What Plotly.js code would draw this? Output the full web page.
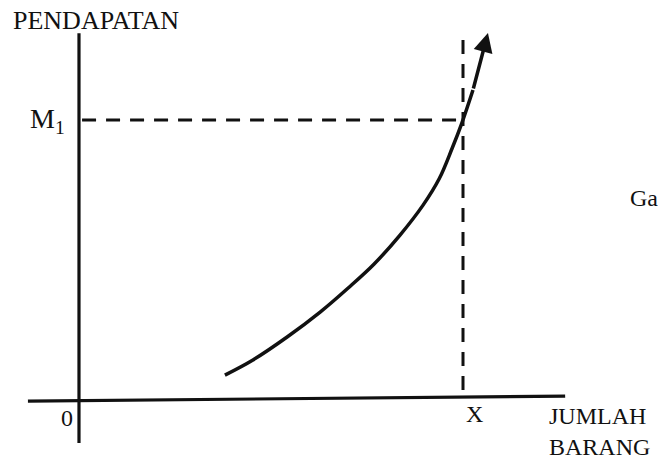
<!DOCTYPE html>
<html>
<head>
<meta charset="utf-8">
<script src="https://cdn.plot.ly/plotly-3.0.1.min.js"></script>
<style>html,body{margin:0;padding:0;background:#fff;}#chart{width:658px;height:459px;}</style>
</head>
<body>
<div id="chart"></div>
<script>
// Engel curve (data units: X = 10 on the quantity axis, M1 = 10 on the income axis)
const curveX = [3.80, 4.53, 5.42, 6.28, 7.01, 7.68, 8.36, 8.96, 9.38, 9.72, 9.97, 10.26];
const curveY = [0.89, 1.43, 2.25, 3.14, 4.00, 4.85, 5.89, 6.96, 7.90, 9.00, 9.89, 11.07];
const arrowTip = [10.65, 13.11];
const markX = 10;      // X
const markY = 10;      // M1
const yAxisLabel = 'PENDAPATAN';
const xAxisLabel = 'JUMLAH<br>BARANG';
const tickLabels = {origin: '0', x: 'X', y: 'M<sub>1</sub>'};
const sideText = 'Ga';

const ink = '#111';
const fam = '"Liberation Serif", "Times New Roman", serif';
const font = {family: fam, size: 24, color: ink};

const traces = [{
  x: curveX, y: curveY, type: 'scatter', mode: 'lines',
  line: {color: ink, width: 3.5, shape: 'spline', smoothing: 1},
  hoverinfo: 'skip', showlegend: false
}];

const shapes = [
  // vertical axis
  {type: 'line', xref: 'x', yref: 'y', x0: 0, x1: 0, y0: -1.54, y1: 13.1, line: {color: ink, width: 3.2}},
  // horizontal axis
  {type: 'line', xref: 'x', yref: 'y', x0: -1.33, x1: 12.66, y0: -0.04, y1: 0.14, line: {color: ink, width: 3.2}},
  // dashed M1 guide
  {type: 'line', xref: 'x', yref: 'y', x0: 0.08, x1: markX, y0: markY, y1: markY, line: {color: ink, width: 3, dash: '14px,10px'}},
  // dashed X guide
  {type: 'line', xref: 'x', yref: 'y', x0: markX, x1: markX, y0: 0.36, y1: 12.86, line: {color: ink, width: 3, dash: '14px,10px'}}
];

const annotations = [
  // arrow continuing the curve
  {x: arrowTip[0], y: arrowTip[1], ax: curveX[curveX.length - 1], ay: curveY[curveY.length - 1],
   xref: 'x', yref: 'y', axref: 'x', ayref: 'y', text: '', showarrow: true,
   arrowhead: 2, arrowsize: 1.1, arrowwidth: 3.5, arrowcolor: ink, standoff: 0, startstandoff: 0},
  {x: -1.77, y: 13.57, xref: 'x', yref: 'y', text: yAxisLabel, showarrow: false, xanchor: 'left', yanchor: 'middle', font: {family: fam, size: 26, color: ink}},
  {x: -0.3125, y: 10.0, xref: 'x', yref: 'y', text: tickLabels.y, showarrow: false, xanchor: 'right', yanchor: 'middle', font: {family: fam, size: 28, color: ink}},
  {x: -0.30, y: -0.64, xref: 'x', yref: 'y', text: tickLabels.origin, showarrow: false, xanchor: 'center', yanchor: 'middle', font: font},
  {x: 10.29, y: -0.5, xref: 'x', yref: 'y', text: tickLabels.x, showarrow: false, xanchor: 'center', yanchor: 'middle', font: font},
  {x: 12.19, y: -1.107, xref: 'x', yref: 'y', text: xAxisLabel, showarrow: false, xanchor: 'left', yanchor: 'middle', align: 'left', font: font},
  {x: 14.30, y: 7.21, xref: 'x', yref: 'y', text: sideText, showarrow: false, xanchor: 'left', yanchor: 'middle', font: font}
];

const layout = {
  width: 658, height: 459,
  margin: {l: 0, r: 0, t: 0, b: 0},
  paper_bgcolor: '#fff', plot_bgcolor: '#fff',
  xaxis: {range: [-2.057, 15.078], visible: false, fixedrange: true},
  yaxis: {range: [-2.107, 14.286], visible: false, fixedrange: true},
  shapes: shapes,
  annotations: annotations,
  showlegend: false
};

Plotly.newPlot('chart', traces, layout, {staticPlot: true, displayModeBar: false});
</script>
</body>
</html>
